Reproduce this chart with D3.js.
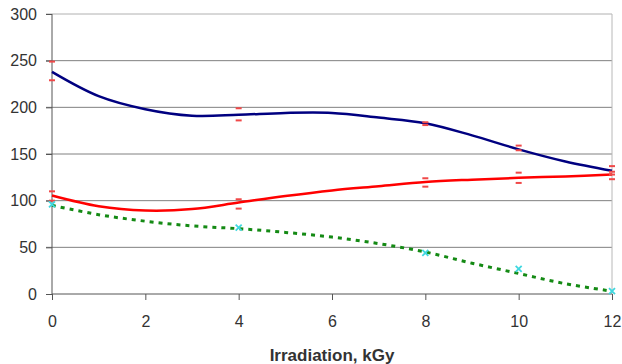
<!DOCTYPE html>
<html>
<head>
  <title>Irradiation chart</title>
  <script type="text/javascript" src="https://d3js.org/d3.v7.min.js"></script>
  <style>
    body { margin: 0; background: #fff; }
    text { font-family: "Liberation Sans", Arial, sans-serif; fill: #333; }
  </style>
</head>
<body>
  <div class="chart"></div>
  <script type="text/javascript">
    // fitted trend lines, read at each kGy
    const doses = [0, 1, 2, 3, 4, 5, 6, 7, 8, 9, 10, 11, 12];
    const blueCurve = [238, 212, 198, 191, 192, 194, 194, 189, 183, 170, 155, 142, 132];
    const redCurve = [105.5, 94, 89.5, 91, 98, 105, 111, 115.5, 120, 122.5, 124.5, 126, 128];
    const greenCurve = [95, 85, 78, 73, 70, 66, 61, 54, 45, 33, 22, 11, 3];

    // measured points (small marks)
    const measureDoses = [0, 4, 8, 10, 12];
    const blueHigh = [249, 199, 184, 159, 137];
    const blueLow = [229, 186, 181, 154, 128];
    const redHigh = [110, 101.5, 124, 130, 131];
    const redLow = [100, 91.5, 115, 119, 123];
    const greenPoints = [96, 71, 44, 27, 3];

    const xTicks = [0, 2, 4, 6, 8, 10, 12];
    const yTicks = [0, 50, 100, 150, 200, 250, 300];

    const margin = {top: 14, left: 52, bottom: 70, right: 10};
    const width = 622 - margin.left - margin.right;
    const height = 364 - margin.top - margin.bottom;

    const svg = d3.select('.chart')
      .append('svg')
      .attr('width', 622)
      .attr('height', 364)
      .append('g')
      .attr('transform', `translate(${margin.left},${margin.top})`);

    const xScale = d3.scaleLinear().domain([0, 12]).range([0, width]);
    const yScale = d3.scaleLinear().domain([0, 300]).range([height, 0]);

    // gridlines
    svg.selectAll('.grid')
      .data(yTicks.filter(d => d > 0))
      .enter()
      .append('line')
      .attr('x1', -6)
      .attr('x2', width)
      .attr('y1', d => yScale(d))
      .attr('y2', d => yScale(d))
      .attr('stroke', d => d == 300 ? '#b0b0b0' : '#808080')
      .attr('stroke-width', 1);

    // right frame
    svg.append('line')
      .attr('x1', width).attr('x2', width)
      .attr('y1', 0).attr('y2', height)
      .attr('stroke', '#b8b8b8');

    const xAxis = d3.axisBottom(xScale).tickValues(xTicks).tickSize(6).tickPadding(16);
    const yAxis = d3.axisLeft(yScale).tickValues(yTicks).tickSize(6).tickPadding(9);

    const gx = svg.append('g')
      .attr('class', 'axis x-axis')
      .attr('transform', `translate(0, ${height})`)
      .call(xAxis);
    const gy = svg.append('g')
      .attr('class', 'axis y-axis')
      .call(yAxis);

    [gx, gy].forEach(g => {
      g.select('.domain').attr('stroke', '#555');
      g.selectAll('.tick line').attr('stroke', '#555');
      g.selectAll('.tick text')
        .style('font-size', '16px')
        .style('font-family', '"Liberation Sans", Arial, sans-serif')
        .attr('fill', '#333');
    });
    gy.select('.domain').attr('d', `M0,${height}V0`);
    gx.select('.domain').attr('d', `M0,0H${width}`);

    svg.append('text')
      .attr('x', width / 2)
      .attr('y', height + 67)
      .attr('text-anchor', 'middle')
      .style('font-size', '17px')
      .style('font-weight', 'bold')
      .text('Irradiation, kGy');

    const line = d3.line()
      .x((d, i) => xScale(doses[i]))
      .y(d => yScale(d))
      .curve(d3.curveCatmullRom);

    svg.append('path')
      .attr('d', line(blueCurve))
      .attr('fill', 'none')
      .attr('stroke', '#000080')
      .attr('stroke-width', 2.5);

    svg.append('path')
      .attr('d', line(redCurve))
      .attr('fill', 'none')
      .attr('stroke', '#ff0000')
      .attr('stroke-width', 2.5);

    svg.append('path')
      .attr('d', line(greenCurve))
      .attr('fill', 'none')
      .attr('stroke', '#148a14')
      .attr('stroke-width', 3)
      .attr('stroke-dasharray', '4,5');

    // red dash marks
    const dashVals = [];
    [blueHigh, blueLow, redHigh, redLow].forEach(arr => {
      arr.forEach((v, i) => dashVals.push({x: measureDoses[i], y: v}));
    });
    svg.selectAll('.dash')
      .data(dashVals)
      .enter()
      .append('line')
      .attr('x1', d => xScale(d.x) - 3)
      .attr('x2', d => xScale(d.x) + 3)
      .attr('y1', d => yScale(d.y))
      .attr('y2', d => yScale(d.y))
      .attr('stroke', '#f04848')
      .attr('stroke-width', 2);

    // cyan x marks
    const cross = svg.selectAll('.cross')
      .data(greenPoints)
      .enter()
      .append('g')
      .attr('transform', (d, i) => `translate(${xScale(measureDoses[i])},${yScale(d)})`);
    cross.append('path')
      .attr('d', 'M-3,-3L3,3M-3,3L3,-3')
      .attr('stroke', '#40d8e0')
      .attr('stroke-width', 1.8);
  </script>
</body>
</html>
